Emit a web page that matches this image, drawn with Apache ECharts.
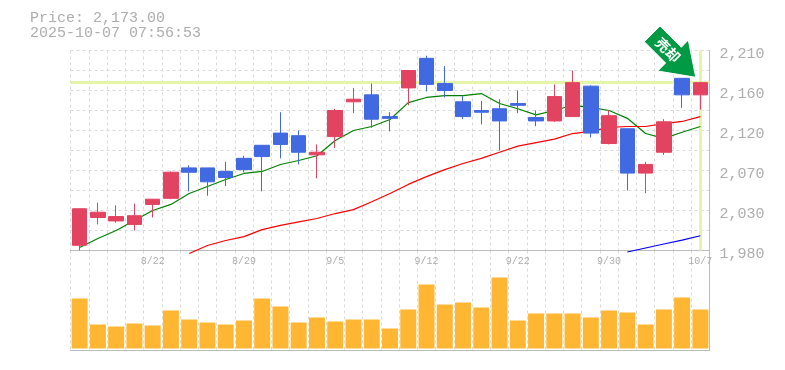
<!DOCTYPE html>
<html><head><meta charset="utf-8">
<style>html,body{margin:0;padding:0;background:#fff}#c{width:785px;height:370px}</style>
<script src="https://cdn.jsdelivr.net/npm/echarts@6/dist/echarts.min.js"></script>
</head><body><div id="c"></div>
<script>
const priceText = 'Price: 2,173.00';
const timeText = '2025-10-07 07:56:53';
const signText = '売却';
const lastPrice = 2173;
const dates = ['8/18','8/19','8/20','8/21','8/22','8/25','8/26','8/27','8/28','8/29','9/1','9/2','9/3','9/4','9/5','9/8','9/9','9/10','9/11','9/12','9/16','9/17','9/18','9/19','9/22','9/24','9/25','9/26','9/29','9/30','10/1','10/2','10/3','10/6','10/7'];
// [open, close, low, high]
const candles = [
[1986,2028,1980,2028],[2018,2024,2010,2035],[2014,2019,2012,2032],[2010,2020,2003,2034],[2033,2039,2018,2039],
[2040,2070,2039,2071],[2075,2070,2048,2078],[2075,2059,2043,2075],[2071,2064,2054,2082],[2086,2073,2070,2089],
[2101,2088,2048,2101],[2115,2102,2086,2139],[2112,2093,2079,2118],[2090,2093,2063,2102],[2111,2141,2098,2143],
[2151,2154,2138,2167],[2159,2131,2121,2172],[2134,2132,2117,2139],[2167,2187,2147,2187],[2201,2171,2163,2204],
[2172,2164,2156,2192],[2151,2134,2131,2158],[2141,2139,2125,2152],[2143,2129,2095,2154],[2149,2147,2138,2164],
[2133,2129,2123,2141],[2129,2157,2128,2171],[2134,2173,2134,2187],[2169,2115,2110,2170],[2103,2135,2102,2141],
[2120,2069,2049,2120],[2069,2079,2046,2082],[2093,2128,2090,2131],[2178,2159,2144,2178],[2159,2173,2142,2174]];
const maShort = [1983.5,1993.8,2003,2014.5,2026,2033,2045.5,2053.6,2061.6,2068.6,2070.9,2078.9,2083.5,2089,2106.5,2118,2122.6,2130.6,2150,2156,2158,2158,2160.5,2149,2143,2136,2141,2147,2144.5,2141,2132,2114.5,2109,2116,2122.6];
const maMid = [null,null,null,null,null,null,1976.5,1985.8,1991.5,1996,2004,2008.8,2013,2016.8,2022.5,2027,2036,2045.5,2056,2065,2073,2080,2086,2093,2100,2104,2108,2114.5,2117,2121.5,2122.6,2122.6,2126,2128.4,2134];
const maLong = [null,null,null,null,null,null,null,null,null,null,null,null,null,null,null,null,null,null,null,null,null,null,null,null,null,null,null,null,null,null,1978.3,1982.9,1987.5,1992,1997];
const volumes = [50,24,22,25,23,38,29,26,24,28,50,42,26,31,27,29,29,20,39,64,44,46,41,71,28,35,35,35,31,38,36,24,39,51,39];
const priceTicks = [1980,2026,2072,2118,2164,2210];
const priceTickLabels = ['1,980','2,030','2,070','2,120','2,160','2,210'];
const priceGrid = [1980,2003,2026,2049,2072,2095,2118,2141,2164,2187,2210];

const GREY='#bbbbbb', TEXT='#adadad', FONT='"Liberation Mono","DejaVu Sans Mono",monospace';
const split={show:true,lineStyle:{color:'#d9d9d9',width:1,type:[3,3]}};
const axisLine={show:true,onZero:false,lineStyle:{color:GREY,width:1}};
const chart=echarts.init(document.getElementById('c'),null,{renderer:'canvas'});
chart.setOption({
 animation:false,
 grid:[{left:70.5,width:639,top:50.5,height:200,containLabel:false},{left:70.5,width:639,top:250.5,height:100}],
 xAxis:[
  {type:'category',gridIndex:0,data:dates,boundaryGap:true,axisLine:axisLine,axisTick:{show:false},
   splitLine:Object.assign({interval:0},split),
   axisLabel:{interval:(i)=>i%5===4,color:TEXT,fontFamily:FONT,fontSize:10,margin:6,hideOverlap:false}},
  {type:'category',gridIndex:1,data:dates,boundaryGap:true,axisLine:axisLine,axisTick:{show:false},
   splitLine:Object.assign({interval:0},split),axisLabel:{show:false}}
 ],
 yAxis:[
  {type:'value',gridIndex:0,position:'right',min:1980,max:2210,scale:true,axisLine:axisLine,
   axisTick:{show:false,customValues:priceGrid},splitLine:split,
   axisLabel:{customValues:priceTicks,color:TEXT,fontFamily:FONT,fontSize:15,margin:10,verticalAlign:'top',lineHeight:8,
    formatter:(v)=>priceTickLabels[priceTicks.indexOf(v)]}},
  {type:'value',gridIndex:1,position:'right',min:-2,max:98,axisLine:axisLine,axisTick:{show:false},splitLine:{show:false},axisLabel:{show:false}}
 ],
 series:[
  {type:'line',name:'marks',xAxisIndex:0,yAxisIndex:0,data:[],z:1,silent:true,
   markLine:{silent:true,z:1,symbol:'none',animation:false,label:{show:false},
    lineStyle:{color:'#e4f5a8',width:3,type:'solid'},
    data:[{yAxis:lastPrice},{xAxis:dates[dates.length-1]}]}},
  {type:'line',name:'ma short',xAxisIndex:0,yAxisIndex:0,data:maShort,symbol:'none',clip:false,z:2,lineStyle:{color:'#008000',width:1.2}},
  {type:'line',name:'ma mid',xAxisIndex:0,yAxisIndex:0,data:maMid,symbol:'none',clip:false,z:2,lineStyle:{color:'#ff0000',width:1.2}},
  {type:'line',name:'ma long',xAxisIndex:0,yAxisIndex:0,data:maLong,symbol:'none',clip:false,z:2,lineStyle:{color:'#0000ff',width:1.2}},
  {type:'candlestick',xAxisIndex:0,yAxisIndex:0,data:candles,barWidth:15,z:3,clip:false,
   itemStyle:{color:'#e24360',color0:'#4169e1',borderColor:'#e24360',borderColor0:'#4169e1',borderWidth:1}},
  {type:'bar',xAxisIndex:1,yAxisIndex:1,data:volumes,barWidth:16,itemStyle:{color:'#ffb733'},z:3}
 ],
 graphic:[
  {type:'text',left:30,top:11,z:20,style:{text:priceText,fill:TEXT,font:'15px '+FONT}},
  {type:'text',left:30,top:26,z:20,style:{text:timeText,fill:TEXT,font:'15px '+FONT}},
  {type:'polygon',z:20,shape:{points:[[660,26],[644.3,41.7],[665.6,63],[657.7,71],[695.7,77.3],[688.3,40],[681.3,47.3]]},
   style:{fill:'#009944',stroke:'#ffffff',lineWidth:1}},
  {type:'text',z:21,x:668,y:50,rotation:-Math.PI/4,style:{text:signText,fill:'#ffffff',font:'bold 14px "Noto Sans CJK JP"',align:'center',verticalAlign:'middle'}}
 ]
});
</script></body></html>
